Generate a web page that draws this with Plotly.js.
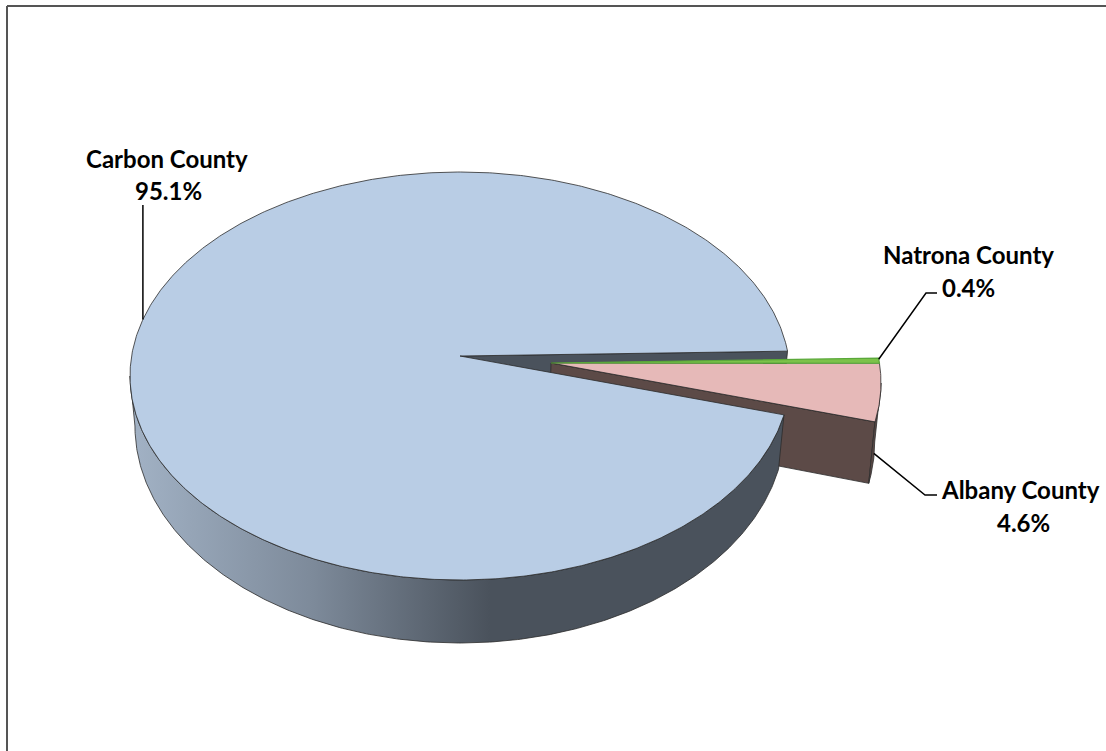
<!DOCTYPE html>
<html>
<head>
<meta charset="utf-8">
<script src="https://cdn.plot.ly/plotly-3.0.1.min.js"></script>
<style>
  html, body { margin: 0; padding: 0; background: #ffffff; }
  #chart { width: 1106px; height: 751px; }
</style>
</head>
<body>
<div id="chart"></div>
<script>
// ---- data ----
const counties = ['Natrona County', 'Albany County', 'Carbon County'];
const shares = [0.4, 4.6, 95.1];

// ---- styling / geometry of the simulated 3‑D pie ----
const topColors  = { 'Natrona County': '#7cc24a', 'Albany County': '#e6b9b8', 'Carbon County': '#b9cde5' };
const sideColors = { 'Natrona County': '#4f7d2e', 'Albany County': '#5c4a47', 'Carbon County': '#4a525c' };
const explodeOffset = { 'Natrona County': [91, 7], 'Albany County': [91, 7], 'Carbon County': [0, 0] };
const CX = 460, CY = 376, RX = 330, RY = 204, APEX_DY = -20;
const START_DEG = 7.0;           // upper edge of the first slice (degrees, counter‑clockwise from east)
const D0 = 50, DS = 13, EXTRA_EXPLODED = 9, VX = 460, K = 0.985;
const OUT = '#2b2b2b';

const rad = d => d * Math.PI / 180;
function center(name) { const o = explodeOffset[name]; return [CX + o[0], CY + o[1]]; }
function apex(name) { const c = center(name); return [c[0], c[1] + APEX_DY]; }
function depth(name, t) {
  const extra = explodeOffset[name][0] ? EXTRA_EXPLODED : 0;
  return D0 - DS * Math.sin(rad(t)) + extra;
}
function rim(name, t) { const c = center(name); return [c[0] + RX * Math.cos(rad(t)), c[1] - RY * Math.sin(rad(t))]; }
function rimBottom(name, t) {
  const p = rim(name, t);
  return [VX + (p[0] - VX) * K, p[1] + depth(name, t)];
}
function apexBottom(name) {
  const a = apex(name);
  const extra = explodeOffset[name][0] ? EXTRA_EXPLODED : 0;
  return [VX + (a[0] - VX) * K, a[1] + D0 + extra];
}
function arc(fn, name, t0, t1) {
  const n = Math.max(2, Math.ceil(Math.abs(t1 - t0) / 0.5));
  const pts = [];
  for (let i = 0; i <= n; i++) pts.push(fn(name, t0 + (t1 - t0) * i / n));
  return pts;
}

// slice angles (clockwise from START_DEG)
const total = shares.reduce((s, v) => s + v, 0);
const angles = {};
let a = START_DEG;
counties.forEach((c, i) => {
  const span = shares[i] / total * 360;
  angles[c] = [a - span, a];   // [a0, a1]
  a -= span;
});

function poly(pts, name, fill, lineColor, lineWidth, extra) {
  const xs = pts.map(p => p[0]), ys = pts.map(p => p[1]);
  xs.push(pts[0][0]); ys.push(pts[0][1]);
  return Object.assign({
    type: 'scatter', mode: 'lines', x: xs, y: ys, fill: 'toself',
    fillcolor: fill, line: { color: lineColor || OUT, width: lineWidth || 0.8 },
    hoverinfo: 'skip', showlegend: false, name: name
  }, extra || {});
}

const traces = [];
const C = 'Carbon County', A = 'Albany County', N = 'Natrona County';

// 1. Carbon cut face at its starting edge (visible through the gap)
{
  const t = angles[C][0];
  traces.push(poly([apex(C), rim(C, t), rimBottom(C, t), apexBottom(C)], C, sideColors[C]));
}
// 2. Albany cut face at its lower edge
{
  const t = angles[A][0];
  traces.push(poly([apex(A), rim(A, t), rimBottom(A, t), apexBottom(A)], A, sideColors[A]));
}
// 3. Carbon side wall (front half) with gradient
{
  const t0 = -180, t1 = angles[C][1];
  const top = arc(rim, C, t0, t1);
  const bot = arc(rimBottom, C, t1, t0);
  traces.push(poly(top.concat(bot), C, sideColors[C], OUT, 0.8, {
    fillgradient: { type: 'horizontal', colorscale: [[0, '#a2b2c5'], [0.28, '#7d8a9a'], [0.55, '#4a525c'], [1, '#4a525c']] }
  }));
}
// 4. Carbon top face
{
  const pts = [apex(C)].concat(arc(rim, C, angles[C][1], angles[C][0]));
  traces.push(poly(pts, C, topColors[C]));
}
// 5. Albany side wall (front part)
{
  const t0 = angles[A][0], t1 = Math.min(0, angles[A][1]);
  const top = arc(rim, A, t0, t1);
  const bot = arc(rimBottom, A, t1, t0);
  traces.push(poly(top.concat(bot), A, sideColors[A]));
}
// 6. Albany top face
{
  const pts = [apex(A)].concat(arc(rim, A, angles[A][0], angles[A][1]));
  traces.push(poly(pts, A, topColors[A]));
}
// 7. Natrona top face
{
  const pts = [apex(N)].concat(arc(rim, N, angles[N][0], angles[N][1]));
  traces.push(poly(pts, N, topColors[N], '#5aa83a', 1.2));
}

// ---- labels & leader lines ----
const labelFont = { family: 'Lato, "Open Sans", sans-serif', size: 24, color: '#000000', weight: 700 };
const labelPos = {
  'Carbon County':  { name: [167, 158], pct: [168, 190] },
  'Natrona County': { name: [968, 254], pct: [968, 287] },
  'Albany County':  { name: [1020, 489], pct: [1023, 522] }
};
const annotations = [];
counties.forEach((c, i) => {
  const lp = labelPos[c];
  annotations.push({ x: lp.name[0], y: lp.name[1], xref: 'x', yref: 'y', text: c, showarrow: false,
    xanchor: 'center', yanchor: 'middle', font: labelFont });
  annotations.push({ x: lp.pct[0], y: lp.pct[1], xref: 'x', yref: 'y', text: shares[i].toFixed(1) + '%', showarrow: false,
    xanchor: 'center', yanchor: 'middle', font: labelFont });
});

function pathOf(pts) { return 'M ' + pts.map(p => p[0].toFixed(1) + ' ' + p[1].toFixed(1)).join(' L '); }
const carbonStart = rim(C, 163.9);
const natronaStart = rim(N, angles[N][1] - 0.3);
const albTop = rim(A, -7), albBot = rimBottom(A, -7);
const albanyStart = [albTop[0] + (albBot[0] - albTop[0]) * 0.75, albTop[1] + (albBot[1] - albTop[1]) * 0.75];
const leaders = [
  [carbonStart, [carbonStart[0], 205]],
  [natronaStart, [926, 293], [937, 293]],
  [albanyStart, [925, 495], [937, 495]]
];
const shapes = leaders.map(pts => ({
  type: 'path', xref: 'x', yref: 'y', path: pathOf(pts), line: { color: '#000000', width: 1.5 }
}));
// chart frame
shapes.push({ type: 'line', xref: 'paper', yref: 'paper', x0: 7 / 1106, x1: 1, y0: 1 - 6 / 751, y1: 1 - 6 / 751, line: { color: '#555555', width: 2 } });
shapes.push({ type: 'line', xref: 'paper', yref: 'paper', x0: 7 / 1106, x1: 7 / 1106, y0: 0, y1: 1 - 6 / 751, line: { color: '#555555', width: 2 } });

const layout = {
  width: 1106, height: 751,
  margin: { l: 0, r: 0, t: 0, b: 0 },
  paper_bgcolor: '#ffffff', plot_bgcolor: '#ffffff',
  xaxis: { range: [0, 1106], visible: false, fixedrange: true },
  yaxis: { range: [751, 0], visible: false, fixedrange: true },
  showlegend: false,
  annotations: annotations,
  shapes: shapes
};

Plotly.newPlot('chart', traces, layout, { displayModeBar: false, staticPlot: true });
</script>
</body>
</html>
